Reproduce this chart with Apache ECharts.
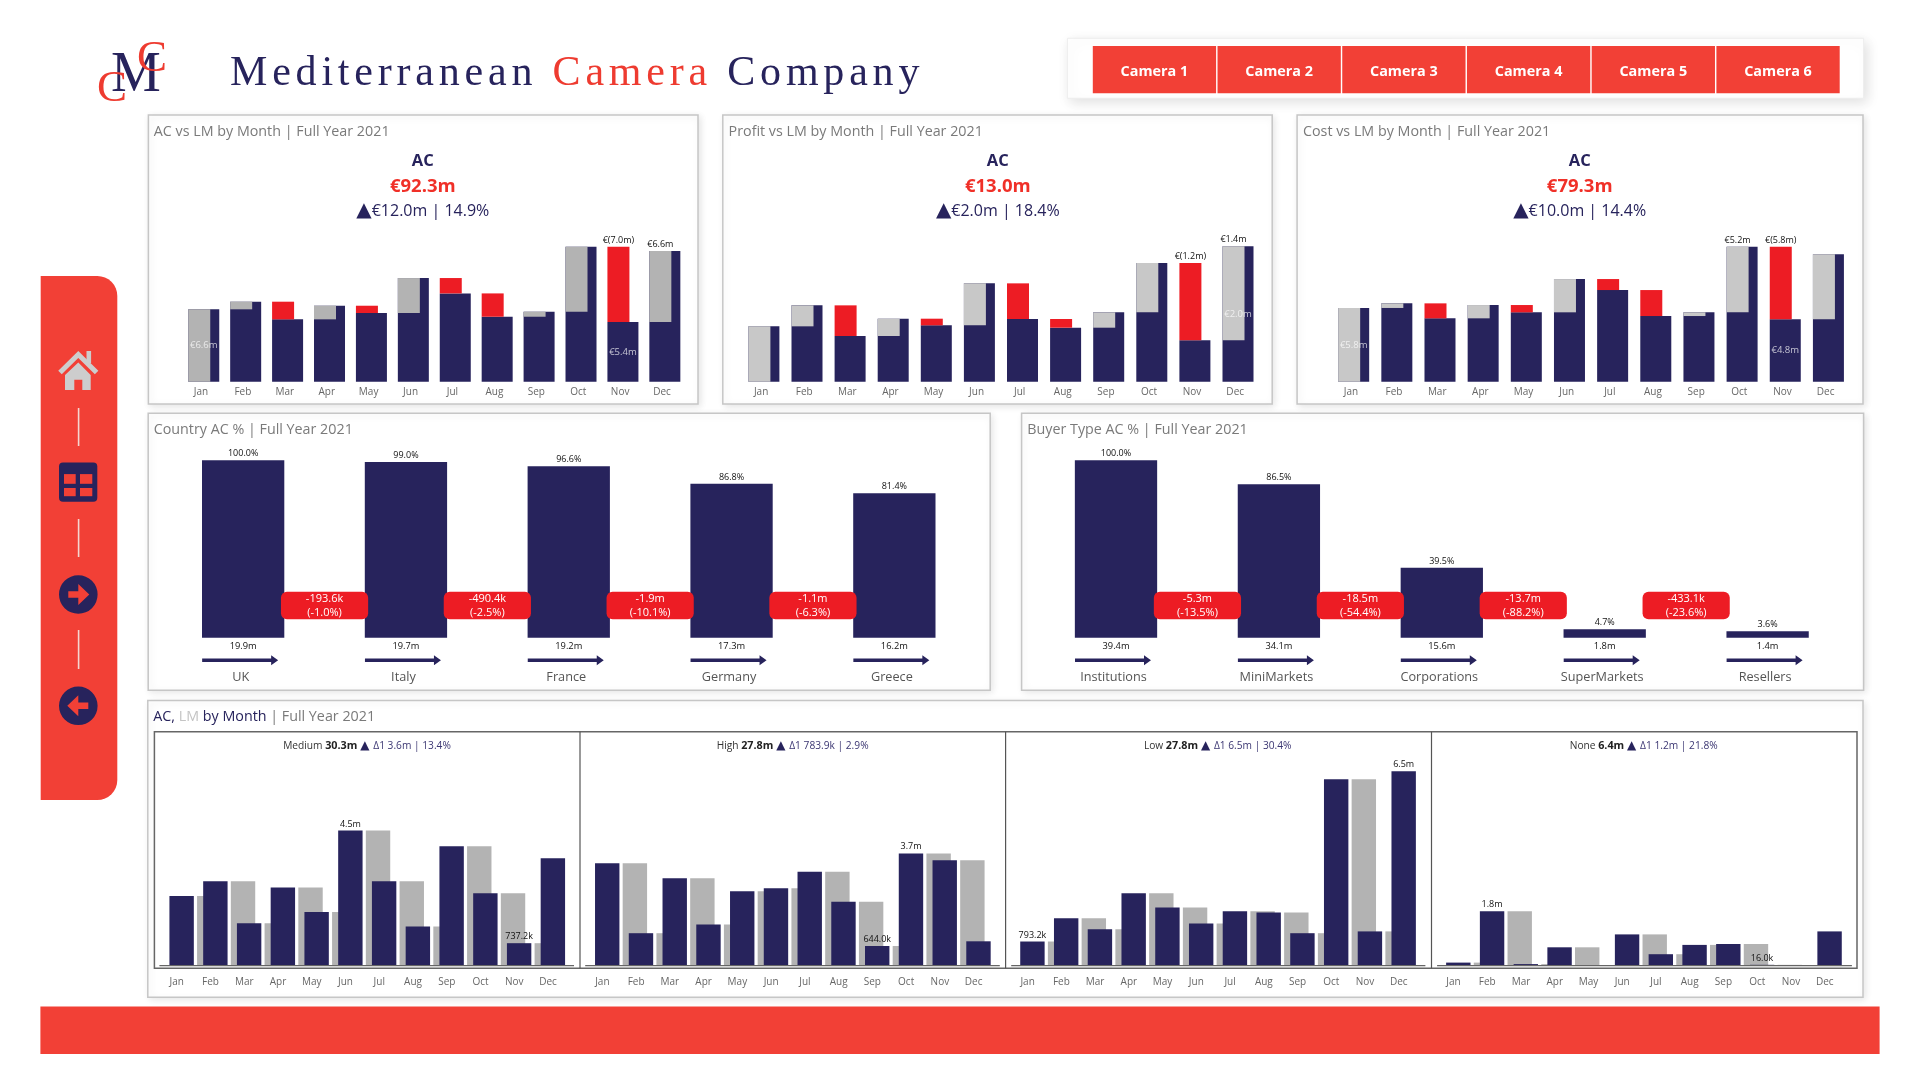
<!DOCTYPE html>
<html><head><meta charset="utf-8">
<style>
html,body{margin:0;padding:0;background:#fff;width:1920px;height:1080px;overflow:hidden}
#c{position:absolute;left:0;top:0;width:1920px;height:1080px}
#t{position:absolute;left:230px;top:50px;font:42px/1 "Liberation Serif",serif;letter-spacing:4.8px;color:#27235C;white-space:nowrap;z-index:5}
#t span{color:#EE3B30}
</style>
<script src="https://cdn.jsdelivr.net/npm/echarts@6/dist/echarts.min.js"></script>
</head><body>
<div id="c"></div>
<div id="t">Mediterranean <span>Camera</span> Company</div>
<script>
const months=['Jan','Feb','Mar','Apr','May','Jun','Jul','Aug','Sep','Oct','Nov','Dec'];
const cameras=['Camera 1','Camera 2','Camera 3','Camera 4','Camera 5','Camera 6'];

const revenueAC=[6.64,7.34,5.72,6.97,6.30,9.51,8.10,5.96,6.42,12.39,5.47,11.99];
const revenueLM=[0,6.64,7.34,5.72,6.97,6.30,9.51,8.10,5.96,6.42,12.39,5.47];
const revenueTop=[null,null,null,null,null,null,null,null,null,null,'€(7.0m)','€6.6m'];
const revenueIn=['€6.6m',null,null,null,null,null,null,null,null,null,'€5.4m',null];

const profitAC=[0.818,1.128,0.675,0.931,0.833,1.453,0.926,0.798,1.025,1.754,0.611,2.0];
const profitLM=[0,0.818,1.128,0.675,0.931,0.833,1.453,0.926,0.798,1.025,1.754,0.611];
const profitTop=[null,null,null,null,null,null,null,null,null,null,'€(1.2m)','€1.4m'];
const profitIn=[null,null,null,null,null,null,null,null,null,null,null,'€2.0m'];

const costAC=[5.76,6.12,4.95,5.99,5.42,8.02,7.16,5.13,5.42,10.55,4.87,9.95];
const costLM=[0,5.76,6.12,4.95,5.99,5.42,8.02,7.16,5.13,5.42,10.55,4.87];
const costTop=[null,null,null,null,null,null,null,null,null,'€5.2m','€(5.8m)',null];
const costIn=['€5.8m',null,null,null,null,null,null,null,null,null,'€4.8m',null];

const countries=['UK','Italy','France','Germany','Greece'];
const countryPct=[100,99,96.6,86.8,81.4];
const countryPctText=['100.0%','99.0%','96.6%','86.8%','81.4%'];
const countryAC=['19.9m','19.7m','19.2m','17.3m','16.2m'];
const countryGap=[['-193.6k','(-1.0%)'],['-490.4k','(-2.5%)'],['-1.9m','(-10.1%)'],['-1.1m','(-6.3%)']];

const buyers=['Institutions','MiniMarkets','Corporations','SuperMarkets','Resellers'];
const buyerPct=[100,86.5,39.5,4.7,3.6];
const buyerPctText=['100.0%','86.5%','39.5%','4.7%','3.6%'];
const buyerAC=['39.4m','34.1m','15.6m','1.8m','1.4m'];
const buyerGap=[['-5.3m','(-13.5%)'],['-18.5m','(-54.4%)'],['-13.7m','(-88.2%)'],['-433.1k','(-23.6%)']];

const mediumAC=[2.31,2.80,1.40,2.59,1.78,4.49,2.80,1.29,3.97,2.40,0.737,3.57];
const mediumLM=[0,2.31,2.80,1.40,2.59,1.78,4.49,2.80,1.29,3.97,2.40,0.737];
const mediumText=[null,null,null,null,null,'4.5m',null,null,null,null,'737.2k',null];
const highAC=[3.40,1.07,2.90,1.36,2.47,2.57,3.12,2.12,0.644,3.73,3.50,0.80];
const highLM=[0,3.40,1.07,2.90,1.36,2.47,2.57,3.12,2.12,0.644,3.73,3.50];
const highText=[null,null,null,null,null,null,null,null,'644.0k','3.7m',null,null];
const lowAC=[0.793,1.57,1.20,2.40,1.93,1.39,1.80,1.76,1.07,6.20,1.13,6.47];
const lowLM=[0,0.793,1.57,1.20,2.40,1.93,1.39,1.80,1.76,1.07,6.20,1.13];
const lowText=['793.2k',null,null,null,null,null,null,null,null,null,null,'6.5m'];
const noneAC=[0.09,1.80,0.04,0.60,0.01,1.03,0.37,0.68,0.71,0.016,0.01,1.13];
const noneLM=[0,0.09,1.80,0.04,0.60,0.01,1.03,0.37,0.68,0.71,0.016,0.01];
const noneText=[null,'1.8m',null,null,null,null,null,null,null,'16.0k',null,null];

const NAVY='#27235C',RED='#ED1C24',ORANGE='#F24036',GREY='#B3B3B3',LGREY='#C8C8C8',FONT='"Open Sans",sans-serif';
const grid=[],xAxis=[],yAxis=[],series=[],gfx=[];

function addAxes(box,cats,max,margin,size,pad,color){
  const i=grid.length;
  grid.push({left:box[0],top:box[1],width:box[2],height:box[3]});
  xAxis.push({type:'category',gridIndex:i,data:cats,boundaryGap:true,axisLine:{show:false},axisTick:{show:false},splitLine:{show:false},
    axisLabel:{interval:0,margin,fontFamily:FONT,fontSize:size,color:color||'#666',padding:pad}});
  yAxis.push({type:'value',gridIndex:i,min:0,max,show:false,splitLine:{show:false}});
  return i;
}
function lab(t,pos,color,size,dist){
  return t?{show:true,position:pos,formatter:t,color,fontFamily:FONT,fontSize:size||9,distance:dist===undefined?2:dist}:{show:false};
}
function kpiChart(box,max,ac,lm,top,inn,dGrey){
  const g=addAxes(box,months,max,5,10,[0,0,0,3.4]);
  const common={type:'bar',xAxisIndex:g,yAxisIndex:g,barGap:'-100%',silent:true};
  series.push({...common,barWidth:31,itemStyle:{color:NAVY},
    data:ac.map((v,i)=>({value:v,label:lab(inn[i],'inside','rgba(255,255,255,.72)',9.5,0)}))});
  const st='d'+g;
  series.push({...common,stack:st,barWidth:22,itemStyle:{color:'rgba(0,0,0,0)'},
    data:ac.map((v,i)=>Math.min(v,lm[i]))});
  series.push({...common,stack:st,barWidth:22,
    data:ac.map((v,i)=>({value:Math.abs(v-lm[i]),itemStyle:{color:v<lm[i]?RED:dGrey},label:lab(top[i],'top','#111',9)}))});
}
function pctChart(box,cats,pct,pctText,ac,gap){
  const g=addAxes(box,cats,100,33,12.7,[0,5,0,0],'#555');
  series.push({type:'bar',xAxisIndex:g,yAxisIndex:g,barWidth:82.3,silent:true,itemStyle:{color:NAVY},
    data:pct.map((v,i)=>({value:v,label:lab(pctText[i],'top','#111',9,2)}))});
  series.push({type:'custom',xAxisIndex:g,yAxisIndex:g,silent:true,clip:false,z:5,data:cats.map((c,i)=>[i,0]),
    renderItem(p,api){
      const i=api.value(0),c=api.coord([i,0]),bw=api.size([1,0])[0],kids=[];
      kids.push({type:'text',style:{text:ac[i],x:c[0],y:c[1]+9,align:'center',verticalAlign:'middle',fill:'#111',fontFamily:FONT,fontSize:9.3}});
      const ax=c[0]-41,ay=c[1]+22.5;
      kids.push({type:'polygon',shape:{points:[[ax,ay-1.8],[ax+69,ay-1.8],[ax+69,ay-5],[ax+76,ay],[ax+69,ay+5],[ax+69,ay+1.8],[ax,ay+1.8]]},style:{fill:NAVY}});
      if(gap[i]){
        const t=api.coord([i,25.9])[1],b=api.coord([i,10.4])[1],mx=c[0]+bw/2;
        kids.push({type:'rect',shape:{x:mx-43.6,y:t,width:87.2,height:b-t,r:6},style:{fill:RED}});
        kids.push({type:'text',style:{text:gap[i][0],x:mx,y:t+7.5,align:'center',verticalAlign:'middle',fill:'#fff',fontFamily:FONT,fontSize:11}});
        kids.push({type:'text',style:{text:gap[i][1],x:mx,y:t+21,align:'center',verticalAlign:'middle',fill:'#fff',fontFamily:FONT,fontSize:11}});
      }
      return {type:'group',children:kids};
    }});
}
function miniChart(box,ac,lm,text){
  const g=addAxes(box,months,7,11.5,10,[0,3.6,0,0]);
  const common={type:'bar',xAxisIndex:g,yAxisIndex:g,barWidth:24.4,barGap:'-75%',silent:true};
  series.push({...common,itemStyle:{color:GREY},data:lm});
  series.push({...common,itemStyle:{color:NAVY},
    data:ac.map((v,i)=>({value:v,label:lab(text[i],'top','#111',9,2)}))});
}

function panel(x,y,w,h){gfx.push({type:'rect',z:-5,shape:{x,y,width:w,height:h},style:{fill:'#fff',stroke:'#C6C6C6',lineWidth:1.5,shadowBlur:7,shadowColor:'rgba(0,0,0,.10)',shadowOffsetX:2,shadowOffsetY:2}});}
function text(t,x,y,o){gfx.push({type:'text',z:10,style:Object.assign({text:t,x,y,align:'left',verticalAlign:'middle',fontFamily:FONT,fontSize:14.3,fill:'#7A7A7A'},o||{})});}
function kpi(cx,big,rest){
  text('AC',cx,161.7,{align:'center',fontWeight:'bold',fontSize:16.5,fill:NAVY});
  text(big,cx,187,{align:'center',fontWeight:'bold',fontSize:18.5,fill:'#F03028'});
  text('{t|▲}'+rest,cx,211.7,{align:'center',fontSize:16,fill:NAVY,rich:{t:{fontSize:20,fill:NAVY,fontFamily:'"DejaVu Sans"',verticalAlign:'middle',padding:[0,0,2,0]}}});
}
gfx.push({type:'rect',z:-5,shape:{x:40.7,y:276,width:76.6,height:524,r:[0,20,20,0]},style:{fill:ORANGE}});
gfx.push({type:'rect',z:-5,shape:{x:40.4,y:1006.5,width:1839.2,height:47.5},style:{fill:ORANGE}});
[[408,446],[519,557],[630,669]].forEach(s=>gfx.push({type:'line',z:3,shape:{x1:78.6,y1:s[0],x2:78.6,y2:s[1]},style:{stroke:'#F6D5D0',lineWidth:1.6}}));
gfx.push({type:'polyline',z:3,shape:{points:[[60,372.5],[78.3,354.5],[96.6,372.5]]},style:{stroke:'#CDCDCD',lineWidth:5,fill:null}});
gfx.push({type:'rect',z:3,shape:{x:86.5,y:351,width:4.6,height:12},style:{fill:'#CDCDCD'}});
gfx.push({type:'polygon',z:3,shape:{points:[[65,375],[78.3,362.5],[90.7,375],[90.7,390],[82.3,390],[82.3,379.7],[74.3,379.7],[74.3,390],[65,390]]},style:{fill:'#CDCDCD'}});
gfx.push({type:'rect',z:3,shape:{x:59,y:462.4,width:38.3,height:39.3,r:4},style:{fill:NAVY}});
[[64,474.1,11.7,9.7],[80,474.1,12.3,9.7],[64,488,11.7,8.2],[80,488,12.3,8.2]].forEach(r=>gfx.push({type:'rect',z:4,shape:{x:r[0],y:r[1],width:r[2],height:r[3]},style:{fill:ORANGE}}));
gfx.push({type:'circle',z:3,shape:{cx:78.3,cy:594.5,r:19.3},style:{fill:NAVY}});
gfx.push({type:'polygon',z:4,shape:{points:[[68.3,591.2],[78.3,591.2],[78.3,584],[89.3,594.5],[78.3,605],[78.3,597.8],[68.3,597.8]]},style:{fill:ORANGE}});
gfx.push({type:'circle',z:3,shape:{cx:78.3,cy:705.8,r:19.3},style:{fill:NAVY}});
gfx.push({type:'polygon',z:4,shape:{points:[[88.3,702.5],[78.3,702.5],[78.3,695.3],[67.3,705.8],[78.3,716.3],[78.3,709.1],[88.3,709.1]]},style:{fill:ORANGE}});
gfx.push({type:'text',z:4,style:{text:'M',x:136,y:76,align:'center',verticalAlign:'middle',fontFamily:'"Liberation Serif"',fontSize:56,fill:NAVY}});
gfx.push({type:'text',z:5,style:{text:'C',x:152,y:59,align:'center',verticalAlign:'middle',fontFamily:'"Liberation Serif"',fontSize:45,fill:'#EE3B30'}});
gfx.push({type:'text',z:5,style:{text:'C',x:112,y:89,align:'center',verticalAlign:'middle',fontFamily:'"Liberation Serif"',fontSize:45,fill:'#EE3B30'}});
gfx.push({type:'rect',z:-5,shape:{x:1067.4,y:38.3,width:796.2,height:60},style:{fill:'#fff',stroke:'#EEE',lineWidth:1,shadowBlur:12,shadowColor:'rgba(0,0,0,.12)',shadowOffsetX:3,shadowOffsetY:4}});
cameras.forEach((c,i)=>{
  const x=1092.8+i*124.72;
  gfx.push({type:'rect',z:2,shape:{x,y:46,width:123.3,height:47.3},style:{fill:ORANGE}});
  text(c,x+61.6,71.5,{align:'center',fontWeight:'bold',fontSize:14.4,fill:'#fff'});
});
panel(148.4,115,549.6,289);panel(722.8,115,549.4,289);panel(1297.1,115,565.9,289);
panel(148.2,413.3,842,277);panel(1021.6,413.3,842,277);
panel(147.8,700.5,1715.2,296.8);
text('AC vs LM by Month | Full Year 2021',153.8,132.2);
text('Profit vs LM by Month | Full Year 2021',728.6,132.2);
text('Cost vs LM by Month | Full Year 2021',1303,132.2);
text('Country AC % | Full Year 2021',153.7,430.3);
text('Buyer Type AC % | Full Year 2021',1027.3,430.3);
text('{a|AC,} {b|LM} {a|by Month} {c|| Full Year 2021}',153.3,717,{rich:{
  a:{fill:NAVY,fontFamily:FONT,fontSize:14.3},b:{fill:'#C4C4C4',fontFamily:FONT,fontSize:14.3},c:{fill:'#7A7A7A',fontFamily:FONT,fontSize:14.3}}});
kpi(422.8,'€92.3m','€12.0m | 14.9%');
kpi(997.8,'€13.0m','€2.0m | 18.4%');
kpi(1579.7,'€79.3m','€10.0m | 14.4%');
gfx.push({type:'rect',z:6,shape:{x:154.4,y:731.7,width:1702.6,height:236.6},style:{fill:null,stroke:'#666',lineWidth:1.5}});
[580,1005.6,1431.5].forEach(x=>gfx.push({type:'line',z:6,shape:{x1:x,y1:731.7,x2:x,y2:968.3},style:{stroke:'#555',lineWidth:1.2}}));
[[159.4,574],[585.2,999.8],[1011.2,1425.4],[1437.1,1851.9]].forEach(b=>gfx.push({type:'line',z:6,shape:{x1:b[0],y1:965.6,x2:b[1],y2:965.6},style:{stroke:'#666',lineWidth:1.2}}));
function mini(cx,name,tot,rest){
  const s={fontFamily:FONT,fontSize:10.2};
  text(`{n|${name} }{b|${tot} }{t|▲ }{d|Δ1 ${rest}}`,cx,745.7,{align:'center',rich:{
    n:{...s,fill:'#333'},b:{...s,fill:'#222',fontWeight:'bold',fontSize:10.8},t:{fontFamily:'"DejaVu Sans"',fontSize:12,fill:NAVY},d:{...s,fill:'#3B3672'}}});
}
mini(367,'Medium','30.3m','3.6m | 13.4%');
mini(792.6,'High','27.8m','783.9k | 2.9%');
mini(1217.7,'Low','27.8m','6.5m | 30.4%');
mini(1643.7,'None','6.4m','1.2m | 21.8%');

kpiChart([178.3,240,503,141.7],13,revenueAC,revenueLM,revenueTop,revenueIn,GREY);
kpiChart([737.85,232.8,517.2,148.9],2.2,profitAC,profitLM,profitTop,profitIn,LGREY);
kpiChart([1327.6,240.9,517.9,140.8],11,costAC,costLM,costTop,costIn,LGREY);
pctChart([161.75,460.3,814,177.4],countries,countryPct,countryPctText,countryAC,countryGap);
pctChart([1034.55,460.3,814.5,177.4],buyers,buyerPct,buyerPctText,buyerAC,buyerGap);
miniChart([161.7,755.3,405,210],mediumAC,mediumLM,mediumText);
miniChart([587.3,755.3,405,210],highAC,highLM,highText);
miniChart([1012.5,755.3,405,210],lowAC,lowLM,lowText);
miniChart([1438.4,755.3,405,210],noneAC,noneLM,noneText);

const chart=echarts.init(document.getElementById('c'),null,{renderer:'canvas',width:1920,height:1080});
chart.setOption({animation:false,backgroundColor:'#fff',grid,xAxis,yAxis,series,graphic:{elements:gfx}});
</script>
</body></html>
